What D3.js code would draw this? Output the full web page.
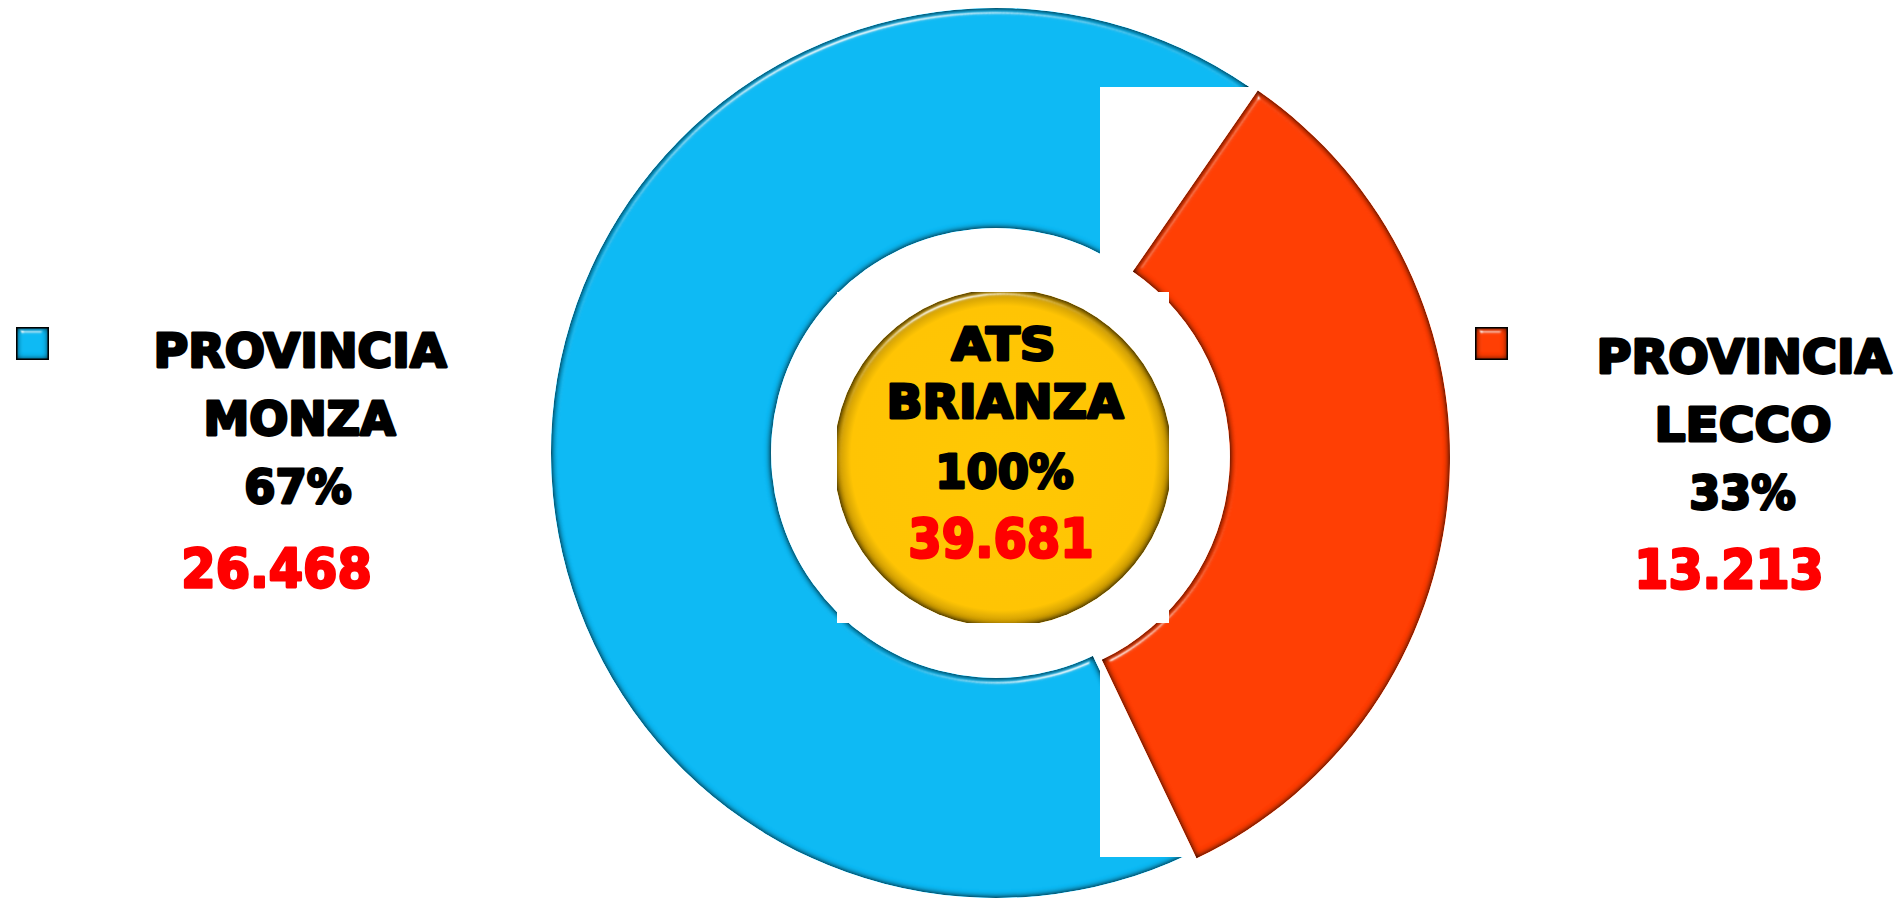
<!DOCTYPE html>
<html>
<head>
<meta charset="utf-8">
<script src="https://cdn.jsdelivr.net/npm/d3@7"></script>
<style>
  html, body { margin: 0; padding: 0; background: #fff; overflow: hidden; }
  svg { display: block; }
  text { font-family: "DejaVu Sans", "Liberation Sans", sans-serif; font-weight: bold; }
</style>
</head>
<body>
<div id="donut-chart"></div>
<script>
// data
const areaPrefix = 'PROVINCIA';
const areas = ['MONZA', 'LECCO'];
const residents = [26468, 13213];
const totalLabel = ['ATS', 'BRIANZA'];
const sliceColors = ['#0bb9f4', '#ff3c00'];

const itLocale = d3.formatLocale({decimal: ',', thousands: '.', grouping: [3], currency: ['€', '']});
const fmtNumber = itLocale.format(',d');
const fmtPct = d3.format('.0%');

class DonutChart {

  constructor() {
    this.element = document.getElementById('donut-chart');
    this.width = 1903;
    this.height = 900;
    this.center = {x: 996, y: 453};
    this.total = d3.sum(residents);
    this.createChart();
  }

  createChart() {
    this.element.innerHTML = '';
    this.svg = d3.select(this.element)
      .append('svg')
        .attr('width', this.width)
        .attr('height', this.height);

    this.addDefs();
    this.createScales();
    this.addSlices();
    this.addCenter();
    this.addLabels();
  }

  addDefs() {
    const defs = this.svg.append('defs');
    const f = defs.append('filter')
      .attr('id', 'bevel')
      .attr('color-interpolation-filters', 'sRGB')
      .attr('x', '-5%').attr('y', '-5%')
      .attr('width', '110%').attr('height', '110%');
    f.append('feGaussianBlur')
      .attr('in', 'SourceAlpha')
      .attr('stdDeviation', 3)
      .attr('result', 'blur');
    const spec = f.append('feSpecularLighting')
      .attr('in', 'blur')
      .attr('surfaceScale', 5)
      .attr('specularConstant', 0.8)
      .attr('specularExponent', 40)
      .attr('lighting-color', '#ffffff')
      .attr('result', 'spec');
    spec.append('feDistantLight')
      .attr('azimuth', 250)
      .attr('elevation', 40);
    f.append('feComposite')
      .attr('in', 'spec').attr('in2', 'SourceAlpha')
      .attr('operator', 'in')
      .attr('result', 'specIn');
    f.append('feComposite')
      .attr('in', 'SourceAlpha').attr('in2', 'blur')
      .attr('operator', 'arithmetic')
      .attr('k2', 1.4).attr('k3', -1.4)
      .attr('result', 'rim');
    f.append('feFlood')
      .attr('flood-color', '#000')
      .attr('flood-opacity', 0.8)
      .attr('result', 'dark');
    f.append('feComposite')
      .attr('in', 'dark').attr('in2', 'rim')
      .attr('operator', 'in')
      .attr('result', 'rimShade');
    const merge = f.append('feMerge');
    merge.append('feMergeNode').attr('in', 'SourceGraphic');
    merge.append('feMergeNode').attr('in', 'rimShade');
    merge.append('feMergeNode').attr('in', 'specIn');

    const g = defs.append('radialGradient')
      .attr('id', 'gold');
    g.append('stop').attr('offset', '0%').attr('stop-color', '#ffc800');
    g.append('stop').attr('offset', '90%').attr('stop-color', '#ffc400');
    g.append('stop').attr('offset', '100%').attr('stop-color', '#b88a00');

    defs.append('clipPath')
      .attr('id', 'center-clip')
      .append('rect')
        .attr('x', 837).attr('y', 292)
        .attr('width', 332).attr('height', 331);
  }

  createScales() {
    const start = 154.5 * Math.PI / 180;
    this.pie = d3.pie()
      .sort(null)
      .startAngle(start)
      .endAngle(start + 2 * Math.PI);
    this.arc = d3.arc()
      .innerRadius(225)
      .outerRadius(445);
    this.slices = this.pie(residents);
  }

  drawSlice(d, i) {
    const c = this.center;
    const mid = (d.startAngle + d.endAngle) / 2;
    const explode = i === 1 ? 9 : 0;
    const dx = explode * Math.sin(mid);
    const dy = -explode * Math.cos(mid) + (i === 1 ? 3 : 0);
    this.svg.append('g')
      .attr('transform', `translate(${c.x + dx}, ${c.y + dy})`)
      .append('path')
        .datum(d)
        .attr('fill', sliceColors[i])
        .attr('filter', 'url(#bevel)')
        .attr('d', this.arc);
  }

  addSlices() {
    this.drawSlice(this.slices[0], 0);
    // white patch pasted over the right side of the ring
    this.svg.append('rect')
      .attr('x', 1100).attr('y', 87)
      .attr('width', 360).attr('height', 770)
      .attr('fill', '#fff');
    this.drawSlice(this.slices[1], 1);
  }

  addCenter() {
    this.svg.append('rect')
      .attr('x', 837).attr('y', 292)
      .attr('width', 332).attr('height', 331)
      .attr('fill', '#fff');
    this.svg.append('g')
      .attr('clip-path', 'url(#center-clip)')
      .append('circle')
        .attr('cx', 1003).attr('cy', 458)
        .attr('r', 169)
        .attr('fill', 'url(#gold)')
        .attr('filter', 'url(#bevel)');
  }

  // glyphs scaled horizontally to the width the text has in the picture
  addText(pos, size, color, str) {
    const sw = 2.8;
    const t = this.svg.append('text')
      .attr('text-anchor', 'middle')
      .style('font-size', `${size}px`)
      .style('fill', color)
      .style('stroke', color)
      .style('stroke-width', sw)
      .style('stroke-linejoin', 'round')
      .text(str);
    const w = t.node().getComputedTextLength() + sw;
    t.attr('transform', `translate(${pos[0]}, ${pos[1]}) scale(${pos[2] / w}, 1)`);
  }

  addLabels() {
    // [centre x, baseline, width]
    const blocks = [
      {rows: [[300, 367, 296], [299.5, 435, 195], [298, 503, 110]], num: [276.5, 587, 193], marker: 16},
      {rows: [[1744, 373, 298], [1743, 441, 180], [1742.5, 509, 109]], num: [1729, 588, 192], marker: 1475}
    ];

    areas.forEach((name, i) => {
      const b = blocks[i];
      const rows = [areaPrefix, name, fmtPct(residents[i] / this.total)];
      rows.forEach((t, j) => this.addText(b.rows[j], 47, '#000', t));
      this.addText(b.num, 54, '#ff0000', fmtNumber(residents[i]));

      this.svg.append('rect')
        .attr('x', b.marker).attr('y', 327)
        .attr('width', 33).attr('height', 33)
        .attr('fill', sliceColors[i])
        .attr('filter', 'url(#bevel)');
      this.svg.append('rect')
        .attr('x', b.marker + 0.75).attr('y', 327.75)
        .attr('width', 31.5).attr('height', 31.5)
        .attr('fill', 'none')
        .attr('stroke', '#000')
        .attr('stroke-width', 1.5);
    });

    // centre: total
    this.addText([1003.5, 360, 107], 44, '#000', totalLabel[0]);
    this.addText([1005, 418, 240], 47, '#000', totalLabel[1]);
    this.addText([1004.5, 488, 141], 47, '#000', fmtPct(1));
    this.addText([1001, 557, 188], 54, '#ff0000', fmtNumber(this.total));
  }

}

new DonutChart();
</script>
</body>
</html>
